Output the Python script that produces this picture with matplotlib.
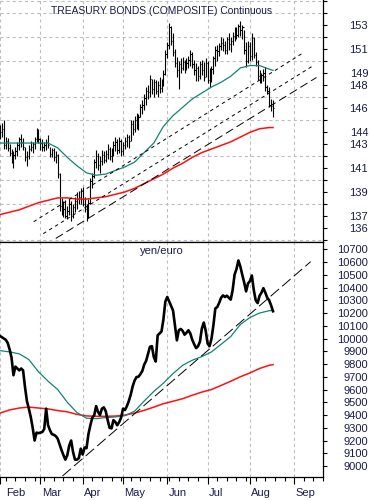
import matplotlib.pyplot as plt
import numpy as np
import pandas as pd

plt.rcParams['font.family'] = ['Liberation Sans', 'DejaVu Sans']
plt.rcParams['lines.scale_dashes'] = False

# trading-day axis (weekdays), data runs Feb 1 .. Aug 17 2012
dates = pd.bdate_range('2012-02-01', '2012-09-28')

bond_high = [144.6, 144.8, 145.0, 143.6, 143.5, 143.0, 142.6, 142.4, 142.8, 143.2,
             143.6, 143.9, 143.5, 142.8, 142.4, 142.9, 143.3, 143.2, 143.6, 144.4,
             144.3, 143.5, 143.4, 143.2, 143.4, 143.8, 142.8, 142.7, 142.7, 142.4,
             142.2, 140.6, 138.5, 138.2, 138.3, 137.8, 138.4, 138.2, 138.0, 138.6,
             139.0, 139.1, 139.3, 139.4, 138.6, 138.0, 138.4, 140.2, 140.6, 141.8,
             142.5, 142.3, 142.0, 142.5, 142.4, 142.5, 143.0, 142.8, 142.7, 143.3,
             143.6, 143.4, 143.6, 143.4, 143.2, 143.6, 143.9, 143.8, 145.0, 145.0,
             145.4, 145.6, 145.5, 146.4, 146.7, 147.2, 147.8, 148.0, 148.8, 148.5,
             148.5, 148.4, 148.3, 148.6, 148.5, 149.2, 150.9, 151.6, 153.2, 152.9,
             152.3, 151.0, 150.3, 150.0, 150.2, 150.3, 150.1, 150.2, 150.4, 150.9,
             150.7, 150.1, 149.8, 149.6, 150.0, 150.1, 149.9, 150.2, 150.0, 149.4,
             149.6, 150.4, 151.2, 151.3, 151.5, 152.0, 151.9, 151.7, 152.0, 152.3,
             152.0, 152.4, 152.8, 152.8, 153.1, 153.3, 153.0, 152.6, 151.6, 151.7,
             151.6, 152.3, 152.0, 150.7, 150.1, 149.2, 149.0, 149.3, 149.5, 148.0,
             147.8, 146.8, 146.7]
bond_low = [143.4, 143.6, 142.6, 142.6, 142.4, 142.0, 141.4, 141.0, 141.8, 142.0,
            142.5, 142.8, 142.5, 141.6, 141.2, 141.8, 142.4, 142.3, 142.6, 143.2,
            143.1, 142.5, 142.4, 142.4, 142.5, 142.7, 141.9, 141.9, 141.6, 141.4,
            140.2, 137.4, 137.1, 136.9, 136.8, 136.7, 137.1, 136.6, 136.8, 137.3,
            137.6, 138.0, 138.0, 137.8, 137.3, 136.6, 136.8, 138.0, 139.3, 140.2,
            141.0, 140.8, 140.6, 141.3, 141.4, 141.5, 141.8, 141.7, 141.5, 142.0,
            142.4, 142.2, 142.3, 142.0, 142.1, 142.6, 142.8, 142.7, 143.3, 143.8,
            144.0, 144.3, 144.2, 145.3, 145.5, 145.9, 146.3, 146.8, 147.0, 147.2,
            147.0, 147.2, 147.0, 147.3, 147.4, 147.9, 148.8, 150.2, 151.0, 151.3,
            150.4, 149.5, 148.6, 147.6, 149.0, 149.2, 149.0, 149.2, 149.4, 149.6,
            149.4, 148.8, 148.3, 148.3, 148.5, 148.8, 148.3, 148.6, 148.1, 147.8,
            148.2, 148.9, 149.6, 150.0, 150.4, 150.9, 150.8, 150.6, 150.6, 150.9,
            150.7, 151.3, 151.7, 151.8, 152.0, 152.1, 151.8, 150.6, 149.5, 149.8,
            150.0, 150.1, 150.2, 149.6, 148.4, 148.1, 148.1, 148.3, 147.5, 147.2,
            146.1, 145.8, 145.3]
bond_close = [144.0, 144.3, 142.9, 143.3, 142.7, 142.3, 141.8, 142.1, 142.4, 142.9,
              143.4, 143.2, 142.8, 141.9, 142.0, 142.6, 142.8, 143.0, 143.4, 144.1,
              143.4, 143.1, 142.8, 142.9, 143.2, 142.9, 142.2, 142.5, 141.9, 142.1,
              140.5, 137.8, 137.4, 137.6, 137.0, 137.4, 138.0, 137.0, 137.7, 138.2,
              138.4, 138.6, 138.4, 138.0, 137.6, 137.2, 138.1, 139.9, 140.3, 141.5,
              142.0, 141.3, 141.6, 142.1, 141.7, 142.2, 142.6, 142.0, 142.3, 142.9,
              143.2, 142.5, 143.3, 142.4, 142.9, 143.3, 143.6, 143.3, 144.7, 144.3,
              145.0, 144.8, 145.3, 146.1, 146.3, 146.9, 147.5, 147.4, 148.5, 147.6,
              148.2, 147.5, 148.0, 147.7, 148.2, 148.9, 150.6, 151.3, 152.8, 151.7,
              150.7, 149.8, 149.2, 149.7, 149.4, 149.9, 149.5, 149.8, 150.1, 150.6,
              149.7, 149.2, 149.4, 148.7, 149.7, 149.2, 148.6, 149.8, 148.4, 149.0,
              149.3, 150.2, 150.9, 150.8, 151.2, 151.5, 151.3, 150.9, 151.8, 151.4,
              151.7, 152.1, 152.5, 152.2, 152.9, 152.6, 152.8, 150.9, 150.0, 151.2,
              150.4, 151.9, 150.5, 149.9, 148.7, 148.5, 148.8, 149.0, 147.8, 147.5,
              146.3, 146.2, 146.0]

yen_euro = [10020, 10010, 10000, 9990, 9965, 9915, 9850, 9712, 9780, 9765,
            9750, 9765, 9750, 9620, 9510, 9450, 9385, 9300, 9200, 9262,
            9258, 9262, 9267, 9290, 9450, 9320, 9280, 9250, 9245, 9235,
            9215, 9170, 9125, 9085, 9050, 9085, 9160, 9200, 9110, 9050,
            9050, 9062, 9136, 9090, 9145, 9140, 9250, 9320, 9380, 9398,
            9470, 9425, 9400, 9450, 9460, 9430, 9360, 9300, 9295, 9360,
            9345, 9320, 9345, 9380, 9450, 9440, 9470, 9510, 9560, 9625,
            9670, 9698, 9700, 9720, 9745, 9795, 9825, 9880, 9935, 9940,
            9855, 9820, 10025, 10040, 10055, 10150, 10290, 10326, 10290, 10255,
            10220, 10100, 9986, 10065, 10075, 10060, 10030, 10045, 10065, 10039,
            9990, 9955, 9925, 9940, 9975, 10080, 10125, 10060, 9960, 9940,
            9999, 10104, 10236, 10247, 10280, 10320, 10338, 10326, 10336, 10320,
            10305, 10380, 10500, 10545, 10612, 10565, 10500, 10440, 10370, 10432,
            10450, 10494, 10380, 10300, 10278, 10335, 10360, 10395, 10360, 10320,
            10300, 10260, 10214]

# moving averages, read at these trading-day indices
ma_idx = [0, 5, 10, 15, 20, 25, 30, 35, 40, 45, 50, 55, 60, 65, 70, 75, 80, 85,
          90, 95, 100, 105, 110, 115, 120, 125, 130, 135, 140, 142]
bond_ma_short = [143.1, 143.1, 143.1, 143.1, 143.1, 143.1, 142.7, 141.9, 141.2, 140.6,
                 140.4, 140.5, 140.8, 141.1, 141.5, 142.3, 143.1, 144.5, 145.4, 146.1,
                 146.8, 147.3, 147.8, 148.2, 148.7, 149.4, 149.6, 149.6, 149.3, 149.2]
bond_ma_long = [137.1, 137.3, 137.5, 137.8, 138.1, 138.3, 138.5, 138.5, 138.4, 138.4,
                138.5, 138.6, 138.8, 139.0, 139.3, 139.7, 140.1, 140.5, 141.0, 141.4,
                141.9, 142.3, 142.6, 142.9, 143.2, 143.6, 144.0, 144.3, 144.4, 144.4]
yen_ma_short = [9905, 9895, 9880, 9835, 9740, 9665, 9600, 9500, 9420, 9375,
                9372, 9380, 9385, 9395, 9430, 9510, 9585, 9650, 9725, 9790,
                9830, 9858, 9895, 9955, 10015, 10110, 10165, 10200, 10218, 10221]
yen_ma_long = [9415, 9440, 9455, 9462, 9455, 9448, 9435, 9425, 9405, 9393,
               9390, 9390, 9392, 9400, 9415, 9437, 9462, 9489, 9508, 9528,
               9555, 9580, 9600, 9632, 9665, 9700, 9730, 9765, 9790, 9795]

# trend lines: (start index, end index), (start value, end value)
bond_trend_x = [(17.5, 157.0), (22.5, 163.0), (29.0, 164.6)]
bond_trend_y = [(136.5, 150.6), (135.5, 149.6), (135.1, 148.6)]
yen_trend_x = (32.5, 161.6)
yen_trend_y = (8922, 10603)

bond_ticks = [136, 137, 139, 141, 143, 144, 146, 148, 149, 151, 153]
yen_ticks = list(range(9000, 10701, 100))

text_col = '#1a1a4e'
grid_col = '#bdbdbd'
teal = '#128474'
red = '#ff1010'

n = len(bond_close)
idx = np.arange(n)
xlim = (2.4, 164.6)

month_starts = [i for i in range(len(dates)) if i == 0 or dates[i].month != dates[i - 1].month]
month_names = [dates[i].strftime('%b') for i in month_starts]
mondays = [i for i in range(len(dates)) if dates[i].weekday() == 0]

fig = plt.figure(figsize=(3.71, 5.0), dpi=100)
ax1 = fig.add_axes([0, 0.516, 323 / 371, 0.484])
ax2 = fig.add_axes([0, 0.046, 323 / 371, 0.470])


def style_axis(ax, ticks, lo, hi, step):
    ax.set_xlim(*xlim)
    ax.set_xticks(month_starts)
    ax.set_xticks(mondays, minor=True)
    ax.yaxis.tick_right()
    ax.set_yticks(ticks)
    ax.set_yticklabels([str(t) for t in ticks], ha='right', color=text_col, fontsize=8)
    ax.set_yticks(np.arange(lo, hi + step / 2, step), minor=True)
    ax.tick_params(axis='y', which='both', length=3, width=0.8, pad=29.5, direction='out')
    ax.grid(True, axis='x', which='major', color=grid_col, lw=0.8, ls=(0, (2.2, 2.2)))
    ax.grid(True, axis='y', which='minor', color=grid_col, lw=0.8, ls=(0, (2.2, 2.2)))
    ax.set_axisbelow(True)
    ax.spines['left'].set_visible(False)
    for s in ax.spines.values():
        s.set_linewidth(0.9)


# top panel: bond bars
style_axis(ax1, bond_ticks, 135, 155, 1)
ax1.set_ylim(134.8, 155.1)
ax1.spines['top'].set_visible(False)
ax1.tick_params(axis='x', which='both', length=0, labelbottom=False)
ax1.vlines(idx, bond_low, bond_high, color='black', lw=0.8)
ax1.hlines(bond_close, idx, idx + 0.7, color='black', lw=0.8)
ax1.plot(ma_idx, bond_ma_short, color=teal, lw=0.9)
ax1.plot(ma_idx, bond_ma_long, color=red, lw=1.1)
styles = [(0, (2.5, 2.5)), (0, (2.5, 2.5)), (0, (6, 3))]
for (x0, x1), (y0, y1), st in zip(bond_trend_x, bond_trend_y, styles):
    ax1.plot([x0, x1], [y0, y1], color='black', lw=0.7, ls=st)
ax1.text(162 / 323, 1 - 11 / 242, 'TREASURY BONDS (COMPOSITE) Continuous',
         transform=ax1.transAxes, ha='center', va='center', fontsize=7.4, color=text_col)

# bottom panel: yen/euro
style_axis(ax2, yen_ticks, 8900, 10700, 100)
ax2.set_ylim(8914, 10757)
ax2.tick_params(axis='x', which='major', length=5, width=0.8, labelbottom=False)
ax2.tick_params(axis='x', which='minor', length=3, width=0.8)
ax2.plot(ma_idx, yen_ma_long, color=red, lw=1.1)
ax2.plot(ma_idx, yen_ma_short, color=teal, lw=0.9)
ax2.plot(idx, yen_euro, color='black', lw=1.9, solid_joinstyle='round')
ax2.plot(yen_trend_x, yen_trend_y, color='black', lw=0.7, ls=(0, (8, 3)))
ax2.text(162 / 323, 1 - 9 / 235, 'yen/euro', transform=ax2.transAxes,
         ha='center', va='center', fontsize=8, color=text_col)

trans = ax2.get_xaxis_transform()
for i, name in zip(month_starts, month_names):
    ax2.text(max(i, xlim[0]) + 0.7, -16 / 235, name, transform=trans,
             ha='left', va='center', fontsize=8, color=text_col)

fig.savefig('out.png', dpi=100)
